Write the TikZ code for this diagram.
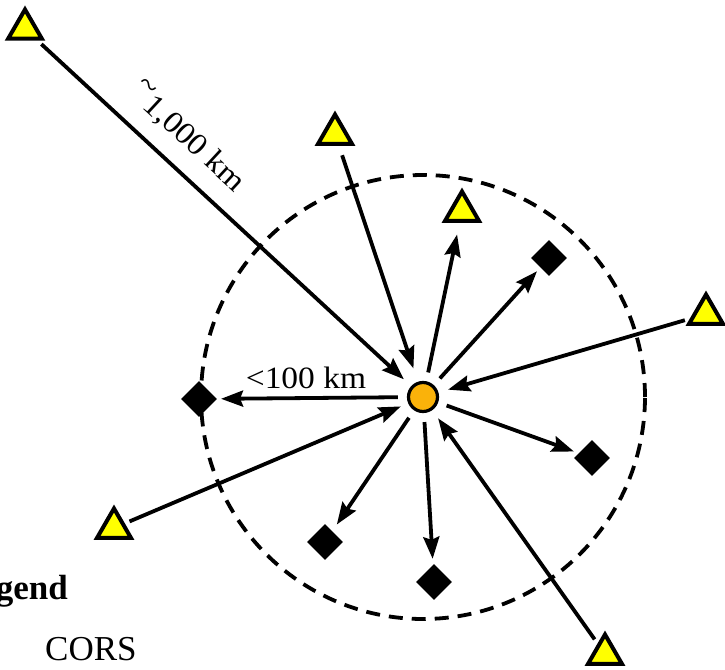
\documentclass[tikz,border=0pt]{standalone}
\usepackage{fontspec}
\setmainfont{Liberation Serif}
\usetikzlibrary{shapes.geometric,arrows.meta}
\definecolor{triyellow}{RGB}{255,255,0}
\definecolor{hub}{RGB}{250,178,10}
\begin{document}
\begin{tikzpicture}[x=1pt,y=-1pt,
  cors/.style={regular polygon,regular polygon sides=3,minimum size=39pt,inner sep=0pt,draw=black,line width=4pt,fill=triyellow},
  site/.style={diamond,fill=black,minimum width=36pt,minimum height=36pt,inner sep=0pt},
  hubnode/.style={circle,draw=black,line width=3.2pt,fill=hub,minimum size=29pt,inner sep=0pt},
  link/.style={line width=3.8pt,-{Stealth[length=22pt,width=16pt,inset=3pt]}},
  ring/.style={line width=3.8pt,dash pattern=on 14pt off 9pt},
  lbl/.style={font=\fontsize{31}{31}\selectfont,inner sep=0pt}
]
\path[use as bounding box] (0,0) rectangle (725,669);
% hub
\node[hubnode] (C) at (423,397) {};
\draw[ring] (C.center) circle[radius=222pt];
% reference stations (triangles)
\node[cors] (T1) at (25,29) {};
\node[cors] (T2) at (335,134) {};
\node[cors] (T3) at (462,211) {};
\node[cors] (T4) at (706,314) {};
\node[cors] (T5) at (114,528) {};
\node[cors] (T6) at (605,654) {};
% rover sites (diamonds)
\node[site] (D1) at (199,399) {};
\node[site] (D2) at (549,258) {};
\node[site] (D3) at (592,458) {};
\node[site] (D4) at (325,542) {};
\node[site] (D5) at (434,582) {};
% incoming
\draw[link,shorten <=5pt,shorten >=10pt] (T1) -- (C);
\draw[link,shorten <=10pt,shorten >=14pt] (T2) -- (C);
\draw[link,shorten <=5pt,shorten >=10pt] (T4) -- (C);
\draw[link,shorten <=5pt,shorten >=8pt] (T5) -- (C);
\draw[link,shorten <=5pt,shorten >=10pt] (T6) -- (C);
% outgoing
\draw[link,shorten <=9pt,shorten >=12pt] (C) -- (T3);
\draw[link,shorten <=9pt,shorten >=4pt] (C) -- (D1);
\draw[link,shorten <=9pt,shorten >=5pt] (C) -- (D2);
\draw[link,shorten <=9pt,shorten >=5pt] (C) -- (D3);
\draw[link,shorten <=9pt,shorten >=8pt] (C) -- (D4);
\draw[link,shorten <=9pt,shorten >=6pt] (C) -- (D5);
% labels
\node[lbl,anchor=base,xscale=1.08] (near) at (306,388) {<100 km};
\node[lbl,rotate=-42.8,xscale=1.08] (far) at (188,137) {\raisebox{0.35em}{\textasciitilde}1,000 km};
\node[font=\bfseries\fontsize{35}{35}\selectfont,anchor=base east,inner sep=0pt] (leg) at (68,599) {Legend};
\node[font=\fontsize{35}{35}\selectfont,anchor=base west,inner sep=0pt] (corslbl) at (45,660) {CORS};
\end{tikzpicture}
\end{document}
